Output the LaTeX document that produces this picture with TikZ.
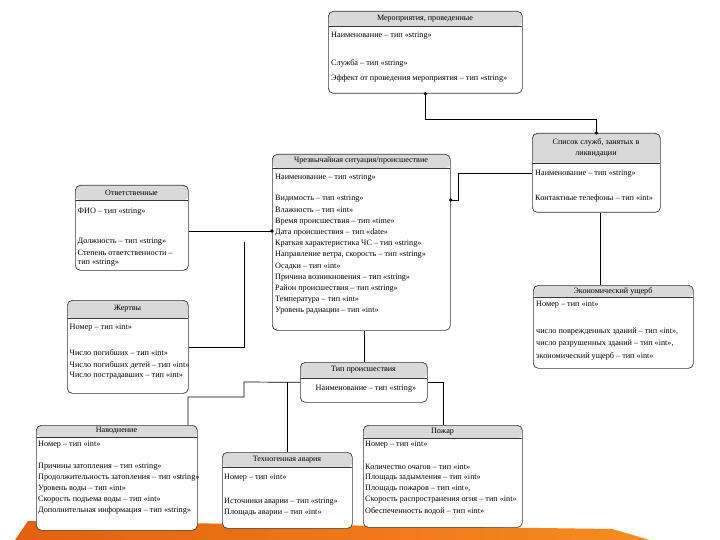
\documentclass[tikz,border=0pt]{standalone}
\usepackage{fontspec}
\setmainfont{Liberation Serif}
\usetikzlibrary{calc}
\definecolor{hdr}{RGB}{217,217,217}
\definecolor{bord}{RGB}{55,55,55}
\definecolor{orA}{RGB}{228,96,14}
\definecolor{orB}{RGB}{246,140,32}
\begin{document}
\begin{tikzpicture}[x=1pt,y=-1pt,
  ent/.style={draw=bord, line width=0.7pt, rounded corners=5pt, fill=white,
    inner sep=0pt, anchor=north west,
    path picture={\fill[hdr] (path picture bounding box.north west) rectangle ([yshift=-#1]path picture bounding box.north east);
      \draw[bord, line width=0.7pt] ([yshift=-#1]path picture bounding box.north west) -- ([yshift=-#1]path picture bounding box.north east);}},
  ttl/.style={inner sep=0pt, font=\fontsize{8.1}{11}\selectfont, align=center},
  fld/.style={inner sep=0pt, anchor=west, font=\fontsize{8.2}{9.5}\selectfont},
  conn/.style={draw=black, line width=0.7pt},
  dot/.style={circle, fill=black, inner sep=0pt, minimum size=3.6pt}
]
\useasboundingbox (0,0) rectangle (720,540);
\fill[white] (0,0) rectangle (720,540);
% orange band
\shade[left color=orA, right color=orB] (15,540) -- (28,521) -- (612,529) -- (650,540) -- cycle;

\newcommand\ent[6]{\node[ent=#6pt, minimum width={#4-#2}, minimum height={#5-#3}] (#1) at (#2,#3) {};}

% boxes
\ent{mer}{328}{11}{522}{93}{15}
\ent{ch}{272}{154}{450}{330}{14}
\ent{spis}{532}{133}{660}{212}{30}
\ent{otv}{75}{185}{188}{270}{15}
\ent{zhe}{67}{300}{188}{393}{18}
\ent{eco}{533}{285}{693}{368}{12}
\ent{tip}{300}{362}{427}{402}{16}
\ent{nav}{36}{425}{197}{530}{12}
\ent{teh}{222}{452}{352}{528}{15}
\ent{poz}{363}{425}{522}{527}{13}

% titles
\node[ttl] (merT) at (425,18.5) {Мероприятия, проведенные};
\node[ttl] (chT) at (361,161) {Чрезвычайная ситуация/происшествие};
\node[ttl] (spisT) at (596,148) {Список служб, занятых в\\ликвидации};
\node[ttl] (otvT) at (131.5,192.5) {Ответственные};
\node[ttl] (zheT) at (127.5,309) {Жертвы};
\node[ttl] (ecoT) at (613,291) {Экономический ущерб};
\node[ttl] (tipT) at (363.5,370) {Тип происшествия};
\node[ttl] (navT) at (116.5,431) {Наводнение};
\node[ttl] (tehT) at (287,459.5) {Техногенная авария};
\node[ttl] (pozT) at (442.5,431.5) {Пожар};

% fields
\foreach \y/\t [count=\i] in {36/{Наименование – тип «string»}, 63/{Служба – тип «string»}, 79/{Эффект от проведения мероприятия – тип «string»}}
  \node[fld] (merF\i) at (331,\y) {\t};

\foreach \y/\t [count=\i] in {178/{Наименование – тип «string»}, 199/{Видимость – тип «string»}, 210.2/{Влажность – тип «int»}, 221.4/{Время происшествия – тип «time»}, 232.6/{Дата происшествия – тип «date»}, 243.8/{Краткая характеристика ЧС – тип «string»}, 255/{Направление ветра, скорость – тип «string»}, 266.2/{Осадки – тип «int»}, 277.4/{Причина возникновения – тип «string»}, 288.6/{Район происшествия – тип «string»}, 299.8/{Температура – тип «int»}, 311/{Уровень радиации – тип «int»}}
  \node[fld] (chF\i) at (275,\y) {\t};

\foreach \y/\t [count=\i] in {174/{Наименование – тип «string»}, 199/{Контактные телефоны – тип «int»}}
  \node[fld] (spisF\i) at (535,\y) {\t};

\foreach \y/\t [count=\i] in {212/{ФИО – тип «string»}, 242/{Должность – тип «string»}, 253/{Степень ответственности –}, 263/{тип «string»}}
  \node[fld] (otvF\i) at (77.5,\y) {\t};

\foreach \y/\t [count=\i] in {328/{Номер – тип «int»}, 353/{Число погибших – тип «int»}, 365/{Число погибших детей – тип «int»}, 376/{Число пострадавших – тип «int»}}
  \node[fld] (zheF\i) at (69.5,\y) {\t};

\foreach \y/\t [count=\i] in {305/{Номер – тип «int»}, 332/{число поврежденных зданий – тип «int»,}, 344/{число разрушенных зданий – тип «int»,}, 356/{экономический ущерб – тип «int»}}
  \node[fld] (ecoF\i) at (536,\y) {\t};

\node[fld, anchor=center] (tipF1) at (366,389) {Наименование – тип «string»};

\foreach \y/\t [count=\i] in {445/{Номер – тип «int»}, 467/{Причины затопления – тип «string»}, 478/{Продолжительность затопления – тип «string»}, 489/{Уровень воды – тип «int»}, 500/{Скорость подъема воды – тип «int»}, 511/{Дополнительная информация – тип «string»}}
  \node[fld] (navF\i) at (38,\y) {\t};

\foreach \y/\t [count=\i] in {478/{Номер – тип «int»}, 502/{Источники аварии – тип «string»}, 513/{Площадь аварии – тип «int»}}
  \node[fld] (tehF\i) at (224,\y) {\t};

\foreach \y/\t [count=\i] in {445/{Номер – тип «int»}, 467/{Количество очагов – тип «int»}, 478/{Площадь задымления – тип «int»}, 489/{Площадь пожаров – тип «int»,}, 500/{Скорость распространения огня – тип «int»}, 511/{Обеспеченность водой – тип «int»}}
  \node[fld] (pozF\i) at (365,\y) {\t};

% connectors
\draw[conn] (mer.south) -- ++(0,26) -| (spis.north);
\node[dot] (d1) at (mer.south) {};
\node[dot] (d2) at (spis.north) {};

\draw[conn] (ch.east |- 0,200) -- (458,200) -- (458,173) -- (spis.west |- 0,173);
\node[dot] (d3) at (ch.east |- 0,200) {};

\draw[conn] (otv.east |- 0,231) -- (ch.west |- 0,231);
\node[dot] (d4) at (ch.west |- 0,231) {};

\coordinate (j1) at (244,242);
\draw[conn] (zhe.east |- 0,347) -| (j1);

\draw[conn] (tip.north) -- (tip.north |- ch.south);

\draw[conn] (tip.west) -- (244,382) -- (244,397) -- (188,397) -- (nav.north -| 188,0);
\draw[conn] (teh.north |- tip.west) -- (teh.north);
\draw[conn] (tip.east) -| (poz.north);

\draw[conn] (spis.south -| 600,0) -- (eco.north -| 600,0);
\end{tikzpicture}
\end{document}
